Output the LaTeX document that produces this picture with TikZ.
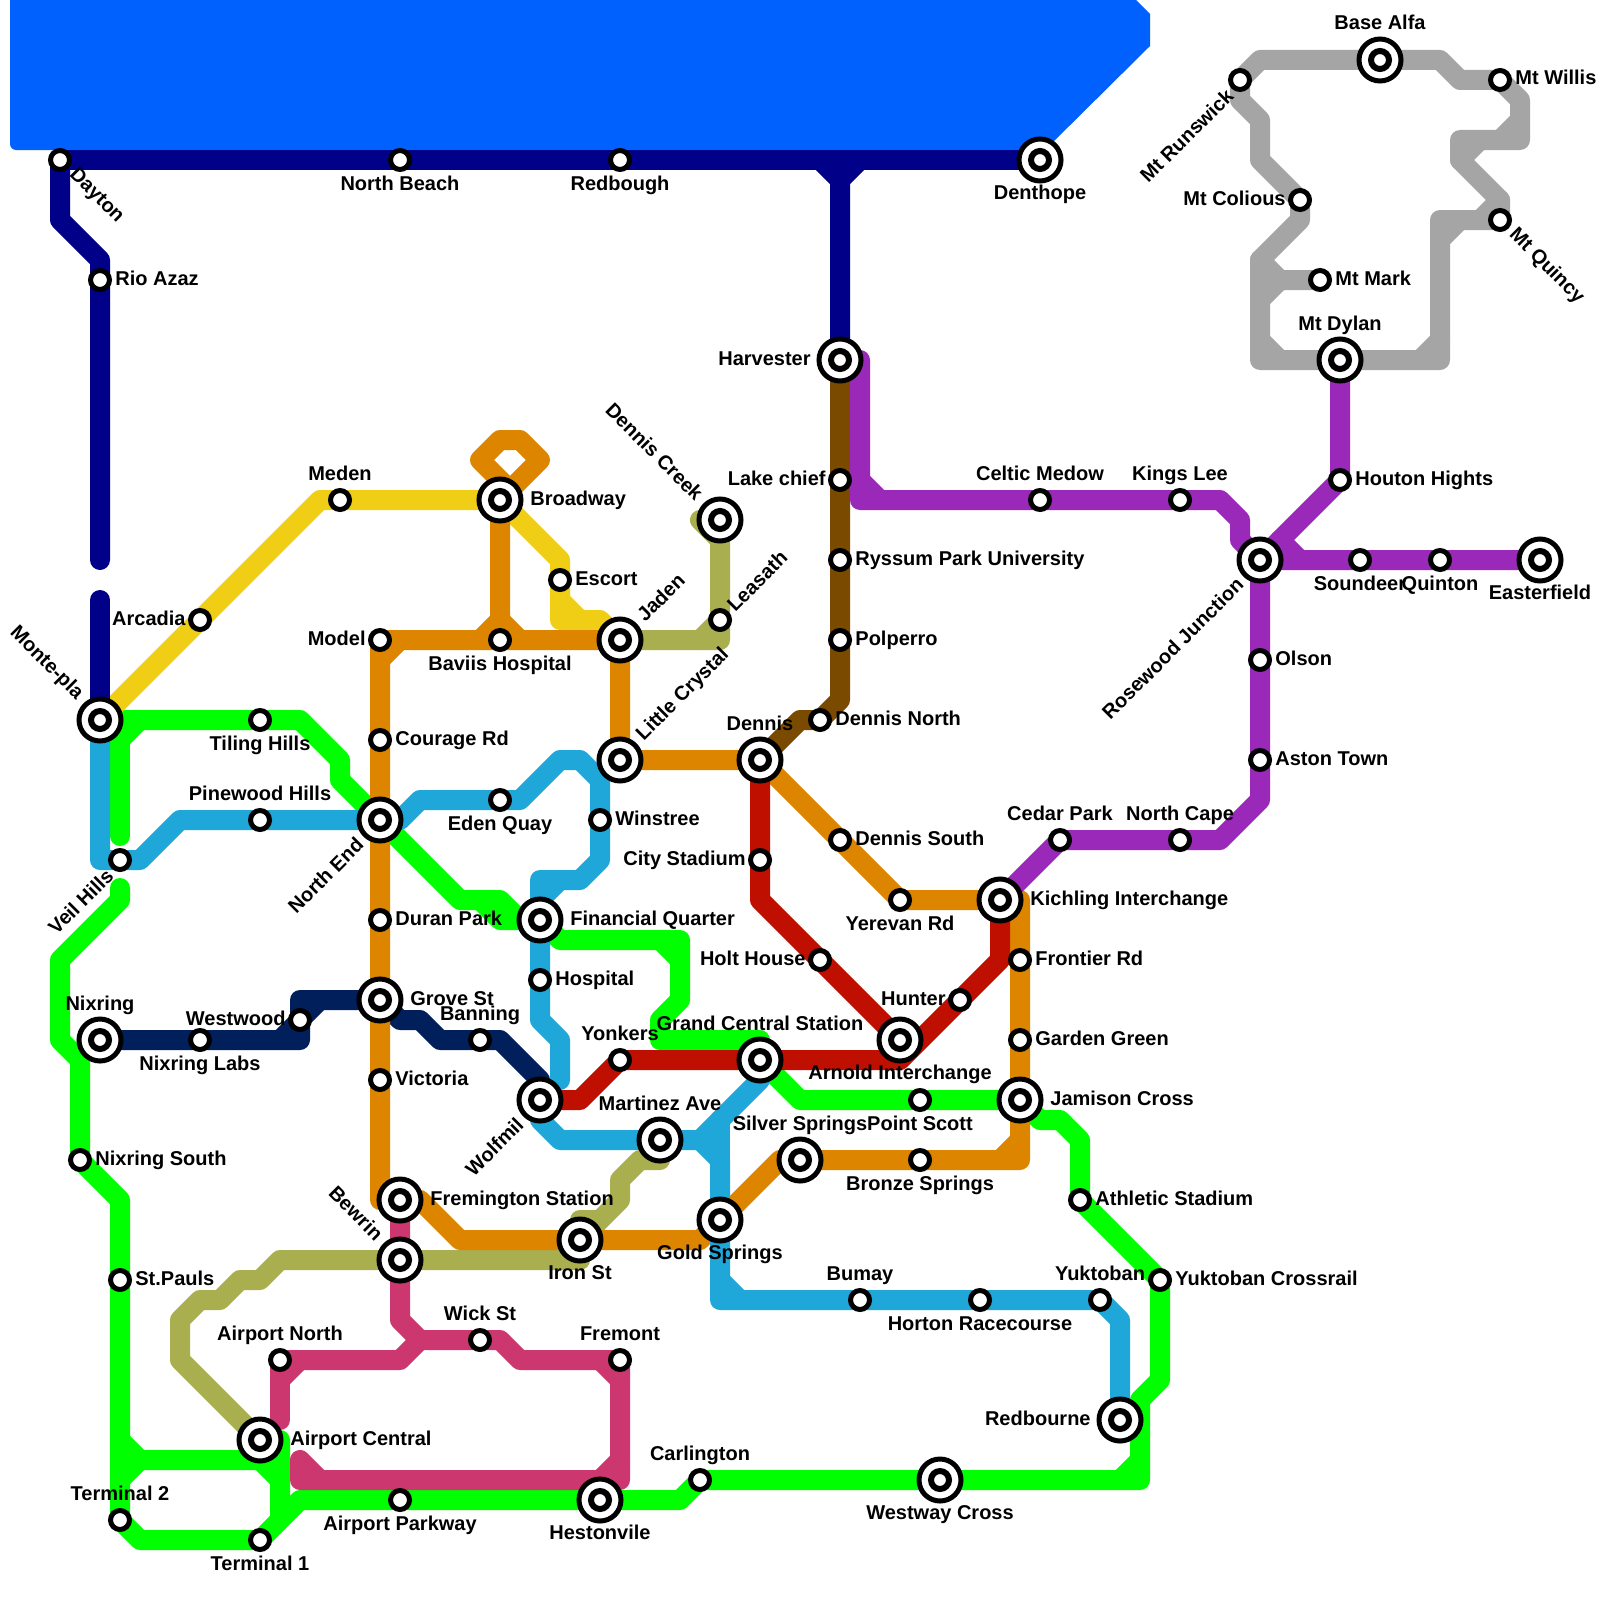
\documentclass[tikz,border=0pt]{standalone}
\usepackage{fontspec}
\setmainfont{Liberation Sans}
\usetikzlibrary{calc}
\pgfdeclarelayer{lines}
\pgfsetlayers{lines,main}
\definecolor{cnavy}{HTML}{000088}
\definecolor{csea}{HTML}{0061FF}
\definecolor{cdark}{HTML}{001F5B}
\definecolor{cgreen}{HTML}{00FF00}
\definecolor{csky}{HTML}{1FA7DA}
\definecolor{cyel}{HTML}{F0CE15}
\definecolor{corange}{HTML}{DE8500}
\definecolor{cred}{HTML}{BF0F00}
\definecolor{cbrown}{HTML}{7A4A00}
\definecolor{cpurple}{HTML}{9A28B8}
\definecolor{cgrey}{HTML}{A5A5A5}
\definecolor{colive}{HTML}{A9AE4F}
\definecolor{ccrim}{HTML}{CD3770}
\tikzset{
  x=10pt,y=-10pt,
  metro/.style={line width=10pt,line cap=round,line join=round},
  stn/.style={circle,draw=black,fill=white,line width=2.5pt,inner sep=0pt,outer sep=0pt,minimum size=9.5pt},
  hub/.style={circle,draw=black,fill=white,line width=2.5pt,inner sep=0pt,outer sep=0pt,minimum size=21pt,
    path picture={\draw[line width=3pt,fill=white] (path picture bounding box.center) circle (4.5pt);}},
  txt/.style={font=\fontsize{10}{12}\selectfont\bfseries,inner sep=0pt,text=black},
  lr/.style={txt,anchor=base west,xshift=7.5pt,yshift=-2.5pt},
  ll/.style={txt,anchor=base east,xshift=-7pt,yshift=-2.5pt},
  la/.style={txt,anchor=base,yshift=10pt},
  lb/.style={txt,anchor=base,yshift=-15pt},
  Lr/.style={txt,anchor=base west,xshift=15pt,yshift=-2.5pt},
  Ll/.style={txt,anchor=base east,xshift=-14.5pt,yshift=-2.5pt},
  La/.style={txt,anchor=base,yshift=15pt},
  Lb/.style={txt,anchor=base,yshift=-19.5pt},
  rdn/.style={txt,anchor=west,xshift=6pt,yshift=-6pt,rotate=-45},
  rup/.style={txt,anchor=west,xshift=5pt,yshift=6pt,rotate=45},
  Rup/.style={txt,anchor=west,xshift=10pt,yshift=11pt,rotate=45},
  rld/.style={txt,anchor=east,xshift=-5pt,yshift=-6pt,rotate=45},
  Rld/.style={txt,anchor=east,xshift=-10pt,yshift=-10.5pt,rotate=45},
  Rlu/.style={txt,anchor=east,xshift=-10pt,yshift=11.5pt,rotate=-45},
}
\begin{document}
\begin{tikzpicture}
\useasboundingbox (0,0) rectangle (80,80);
% stations
\node[stn] (dayton) at (3,8) {};
\node[stn] (northbeach) at (20,8) {};
\node[stn] (redbough) at (31,8) {};
\node[hub] (denthope) at (52,8) {};
\node[stn] (rioazaz) at (5,14) {};
\node[hub] (harvester) at (42,18) {};
\node[stn] (lakechief) at (42,24) {};
\node[stn] (ryssum) at (42,28) {};
\node[stn] (polperro) at (42,32) {};
\node[stn] (dennisnorth) at (41,36) {};
\node[hub] (dennis) at (38,38) {};
\node[stn] (dennissouth) at (42,42) {};
\node[stn] (yerevan) at (45,45) {};
\node[hub] (kichling) at (50,45) {};
\node[stn] (frontier) at (51,48) {};
\node[stn] (garden) at (51,52) {};
\node[hub] (jamison) at (51,55) {};
\node[stn] (pointscott) at (46,55) {};
\node[stn] (bronze) at (46,58) {};
\node[hub] (silver) at (40,58) {};
\node[hub] (gold) at (36,61) {};
\node[hub] (iron) at (29,62) {};
\node[hub] (fremington) at (20,60) {};
\node[hub] (bewrin) at (20,63) {};
\node[stn] (wick) at (24,67) {};
\node[stn] (airportn) at (14,68) {};
\node[stn] (fremont) at (31,68) {};
\node[hub] (airportc) at (13,72) {};
\node[hub] (hestonvile) at (30,75) {};
\node[stn] (airportp) at (20,75) {};
\node[stn] (term1) at (13,77) {};
\node[stn] (term2) at (6,76) {};
\node[stn] (carlington) at (35,74) {};
\node[hub] (westway) at (47,74) {};
\node[hub] (redbourne) at (56,71) {};
\node[stn] (yuktoban) at (55,65) {};
\node[stn] (yukcross) at (58,64) {};
\node[stn] (athletic) at (54,60) {};
\node[stn] (horton) at (49,65) {};
\node[stn] (bumay) at (43,65) {};
\node[stn] (stpauls) at (6,64) {};
\node[stn] (nixsouth) at (4,58) {};
\node[hub] (nixring) at (5,52) {};
\node[stn] (nixlabs) at (10,52) {};
\node[stn] (westwood) at (15,51) {};
\node[hub] (grove) at (19,50) {};
\node[stn] (banning) at (24,52) {};
\node[hub] (wolfmil) at (27,55) {};
\node[stn] (yonkers) at (31,53) {};
\node[hub] (grand) at (38,53) {};
\node[hub] (martinez) at (33,57) {};
\node[stn] (victoria) at (19,54) {};
\node[stn] (duran) at (19,46) {};
\node[hub] (northend) at (19,41) {};
\node[stn] (courage) at (19,37) {};
\node[stn] (model) at (19,32) {};
\node[stn] (baviis) at (25,32) {};
\node[hub] (jaden) at (31,32) {};
\node[hub] (littlec) at (31,38) {};
\node[stn] (leasath) at (36,31) {};
\node[hub] (denniscreek) at (36,26) {};
\node[hub] (broadway) at (25,25) {};
\node[stn] (meden) at (17,25) {};
\node[stn] (arcadia) at (10,31) {};
\node[stn] (escort) at (28,29) {};
\node[hub] (montepla) at (5,36) {};
\node[stn] (tiling) at (13,36) {};
\node[stn] (pinewood) at (13,41) {};
\node[stn] (veil) at (6,43) {};
\node[stn] (eden) at (25,40) {};
\node[stn] (winstree) at (30,41) {};
\node[hub] (financial) at (27,46) {};
\node[stn] (hospital) at (27,49) {};
\node[stn] (citystad) at (38,43) {};
\node[stn] (holt) at (41,48) {};
\node[stn] (hunter) at (48,50) {};
\node[hub] (arnold) at (45,52) {};
\node[stn] (celtic) at (52,25) {};
\node[stn] (kings) at (59,25) {};
\node[hub] (rosewood) at (63,28) {};
\node[stn] (soundeer) at (68,28) {};
\node[stn] (quinton) at (72,28) {};
\node[hub] (easterfield) at (77,28) {};
\node[stn] (houton) at (67,24) {};
\node[hub] (mtdylan) at (67,18) {};
\node[stn] (olson) at (63,33) {};
\node[stn] (aston) at (63,38) {};
\node[stn] (northcape) at (59,42) {};
\node[stn] (cedar) at (53,42) {};
\node[hub] (basealfa) at (69,3) {};
\node[stn] (mtwillis) at (75,4) {};
\node[stn] (mtrunswick) at (62,4) {};
\node[stn] (mtcolious) at (65,10) {};
\node[stn] (mtmark) at (66,14) {};
\node[stn] (mtquincy) at (75,11) {};
% lines
\begin{pgfonlayer}{lines}
\fill[white] (0,0) rectangle (80,80);
\fill[csea,rounded corners=3pt] (0.5,-1) -- (0.5,7.5) -- (52.25,7.5) [sharp corners] -- (57.5,2.3) -- (57.5,0.7) -- (56.8,0) -- (56.8,-1) -- cycle;
% green
\begin{scope}[metro,cgreen]
\draw (montepla.center) -- (tiling.center) -- (15,36) -- (17,38) -- (17,39) -- (northend.center) -- (23,45) -- (25,45) -- (26,46) -- (financial.center);
\draw (24,45) -- (25,46) -- (financial.center);
\draw (7,36) -- (6,37);
\draw (6,36) -- (6,41.8);
\draw (6,44.4) -- (6,45) -- (3,48) -- (3,52) -- (4,53) -- (nixsouth.center) -- (6,60) -- (stpauls.center) -- (term2.center) -- (7,77) -- (term1.center);
\draw (6,72) -- (7,73) -- (13,73) -- (14,74);
\draw (6,74) -- (7,73);
\draw (airportc.center) -- (14,72) -- (14,76) -- (term1.center) -- (15,75) -- (airportp.center) -- (hestonvile.center) -- (34,75) -- (carlington.center) -- (westway.center) -- (57,74) -- (57,70) -- (58,69) -- (yukcross.center) -- (athletic.center) -- (54,57) -- (53,56) -- (52,56) -- (jamison.center);
\draw (56,74) -- (57,73);
\draw (financial.center) -- (28,47) -- (34,47) -- (34,50) -- (33,51) -- (33,52) -- (38,52) -- (grand.center) -- (40,55) -- (pointscott.center) -- (jamison.center);
\draw (33,47) -- (34,48);
\end{scope}
% dark navy
\begin{scope}[metro,cdark]
\draw (nixring.center) -- (nixlabs.center) -- (15,52) -- (15,50) -- (grove.center) -- (20,51) -- (21,51) -- (22,52) -- (banning.center) -- (25,52) -- (27,54) -- (wolfmil.center);
\draw (westwood.center) -- (16,50);
\draw (14,52) -- (westwood.center);
\end{scope}
% olive
\begin{scope}[metro,colive]
\draw (jaden.center) -- (36,32) -- (leasath.center) -- (denniscreek.center) -- (35,26) -- (36,27);
\draw (35,32) -- (leasath.center);
\draw (airportc.center) -- (9,68) -- (9,66) -- (10,65) -- (11,65) -- (12,64) -- (13,64) -- (14,63) -- (bewrin.center) -- (29,63) -- (iron.center);
\draw (martinez.center) -- (33,58) -- (32,58) -- (31,59) -- (31,60) -- (iron.center) -- (29,61) -- (30,61);
\end{scope}
% yellow
\begin{scope}[metro,cyel]
\draw (montepla.center) -- (arcadia.center) -- (16,25) -- (meden.center) -- (broadway.center) -- (28,28) -- (escort.center) -- (28,31) -- (30,31) -- (jaden.center);
\draw (28,30) -- (29,31);
\end{scope}
% orange
\begin{scope}[metro,corange]
\draw (fremington.center) -- (19,60) -- (victoria.center) -- (grove.center) -- (duran.center) -- (northend.center) -- (courage.center) -- (model.center) -- (baviis.center) -- (jaden.center) -- (littlec.center) -- (dennis.center) -- (dennissouth.center) -- (yerevan.center) -- (kichling.center) -- (51,45) -- (frontier.center) -- (garden.center) -- (jamison.center) -- (51,58) -- (bronze.center) -- (silver.center) -- (39,58) -- (gold.center) -- (35,62) -- (iron.center) -- (23,62) -- (21,60) -- (fremington.center);
\draw (19,33) -- (20,32);
\draw (24,32) -- (25,31) -- (26,32);
\draw (baviis.center) -- (broadway.center) -- (27,23) -- (26,22) -- (25,22) -- (24,23) -- (25.5,24.5);
\draw (51,57) -- (50,58);
\end{scope}
% crimson
\begin{scope}[metro,ccrim]
\draw (fremington.center) -- (bewrin.center) -- (20,66) -- (21,67) -- (wick.center) -- (25,67) -- (26,68) -- (fremont.center) -- (31,74) -- (15,74) -- (15,73) -- (16,74);
\draw (airportn.center) -- (20,68) -- (21,67);
\draw (airportn.center) -- (14,71);
\draw (14,69) -- (15,68);
\draw (30,68) -- (31,69);
\draw (31,73) -- (30,74);
\end{scope}
% sky
\begin{scope}[metro,csky]
\draw (montepla.center) -- (5,43) -- (veil.center) -- (7,43) -- (9,41) -- (pinewood.center) -- (northend.center) -- (20,41) -- (21,40) -- (eden.center) -- (26,40) -- (28,38) -- (29,38) -- (30,39) -- (winstree.center) -- (30,43) -- (29,44) -- (27,44) -- (financial.center) -- (hospital.center) -- (27,51) -- (28,52) -- (28,54);
\draw (27,45) -- (28,44);
\draw (wolfmil.center) -- (27,56) -- (28,57) -- (martinez.center) -- (35,57) -- (38,54) -- (grand.center);
\draw (35,57) -- (36,58) -- (gold.center) -- (36,65) -- (bumay.center) -- (horton.center) -- (yuktoban.center) -- (56,66) -- (redbourne.center);
\draw (36,56) -- (36,58);
\draw (36,64) -- (37,65);
\end{scope}
% red
\begin{scope}[metro,cred]
\draw (dennis.center) -- (citystad.center) -- (38,45) -- (holt.center) -- (arnold.center);
\draw (kichling.center) -- (50,48) -- (hunter.center) -- (45,53) -- (grand.center) -- (yonkers.center) -- (29,55) -- (wolfmil.center);
\end{scope}
% brown
\draw[metro,cbrown] (harvester.center) -- (lakechief.center) -- (ryssum.center) -- (polperro.center) -- (42,35) -- (dennisnorth.center) -- (40,36) -- (dennis.center);
% purple
\begin{scope}[metro,cpurple]
\draw (harvester.center) -- (43,18) -- (43,25) -- (celtic.center) -- (kings.center) -- (61,25) -- (62,26) -- (62,27) -- (rosewood.center) -- (soundeer.center) -- (quinton.center) -- (easterfield.center);
\draw (43,24) -- (44,25);
\draw (64,27) -- (65,28);
\draw (rosewood.center) -- (houton.center) -- (mtdylan.center);
\draw (rosewood.center) -- (olson.center) -- (aston.center) -- (63,40) -- (61,42) -- (northcape.center) -- (cedar.center) -- (kichling.center);
\end{scope}
% grey
\begin{scope}[metro,cgrey]
\draw (mtrunswick.center) -- (63,3) -- (basealfa.center) -- (72,3) -- (73,4) -- (mtwillis.center) -- (76,5) -- (76,7) -- (73,7) -- (73,8) -- (75,10) -- (mtquincy.center) -- (72,11) -- (72,18) -- (mtdylan.center) -- (63,18) -- (63,13) -- (65,11) -- (mtcolious.center) -- (63,8) -- (63,6) -- (62,5) -- (mtrunswick.center);
\draw (76,6) -- (75,7);
\draw (73,8) -- (74,7);
\draw (74,11) -- (75,10);
\draw (72,12) -- (73,11);
\draw (71,18) -- (72,17);
\draw (63,17) -- (64,18);
\draw (63,13) -- (64,14) -- (mtmark.center);
\draw (63,15) -- (64,14);
\end{scope}
% navy
\begin{scope}[metro,cnavy]
\draw (dayton.center) -- (northbeach.center) -- (redbough.center) -- (denthope.center);
\draw (dayton.center) -- (3,11) -- (5,13) -- (rioazaz.center) -- (5,28);
\draw (5,30) -- (montepla.center);
\draw (41,8) -- (42,9) -- (harvester.center);
\draw (43,8) -- (42,9);
\end{scope}
\end{pgfonlayer}
% labels
\node[rdn] (t1) at (dayton) {Dayton};
\node[lb] (t2) at (northbeach) {North Beach};
\node[lb] (t3) at (redbough) {Redbough};
\node[Lb] (t4) at (denthope) {Denthope};
\node[lr] (t5) at (rioazaz) {Rio Azaz};
\node[Ll] (t6) at (harvester) {Harvester};
\node[ll] (t7) at (lakechief) {Lake chief};
\node[lr] (t8) at (ryssum) {Ryssum Park University};
\node[lr] (t9) at (polperro) {Polperro};
\node[lr] (t10) at (dennisnorth) {Dennis North};
\node[La] (t11) at (dennis) {Dennis};
\node[lr] (t12) at (dennissouth) {Dennis South};
\node[lb] (t13) at (yerevan) {Yerevan Rd};
\node[Lr] (t14) at (kichling) {Kichling Interchange};
\node[lr] (t15) at (frontier) {Frontier Rd};
\node[lr] (t16) at (garden) {Garden Green};
\node[Lr] (t17) at (jamison) {Jamison Cross};
\node[lb] (t18) at (pointscott) {Point Scott};
\node[lb] (t19) at (bronze) {Bronze Springs};
\node[La] (t20) at (silver) {Silver Springs};
\node[Lb] (t21) at (gold) {Gold Springs};
\node[Lb] (t22) at (iron) {Iron St};
\node[Lr] (t23) at (fremington) {Fremington Station};
\node[Rlu] (t24) at (bewrin) {Bewrin};
\node[la] (t25) at (wick) {Wick St};
\node[la] (t26) at (airportn) {Airport North};
\node[la] (t27) at (fremont) {Fremont};
\node[Lr] (t28) at (airportc) {Airport Central};
\node[Lb] (t29) at (hestonvile) {Hestonvile};
\node[lb] (t30) at (airportp) {Airport Parkway};
\node[lb] (t31) at (term1) {Terminal 1};
\node[la] (t32) at (term2) {Terminal 2};
\node[la] (t33) at (carlington) {Carlington};
\node[Lb] (t34) at (westway) {Westway Cross};
\node[Ll] (t35) at (redbourne) {Redbourne};
\node[la] (t36) at (yuktoban) {Yuktoban};
\node[lr] (t37) at (yukcross) {Yuktoban Crossrail};
\node[lr] (t38) at (athletic) {Athletic Stadium};
\node[lb] (t39) at (horton) {Horton Racecourse};
\node[la] (t40) at (bumay) {Bumay};
\node[lr] (t41) at (stpauls) {St.Pauls};
\node[lr] (t42) at (nixsouth) {Nixring South};
\node[La] (t43) at (nixring) {Nixring};
\node[lb] (t44) at (nixlabs) {Nixring Labs};
\node[ll] (t45) at (westwood) {Westwood};
\node[Lr] (t46) at (grove) {Grove St};
\node[la] (t47) at (banning) {Banning};
\node[Rld] (t48) at (wolfmil) {Wolfmil};
\node[la] (t49) at (yonkers) {Yonkers};
\node[La] (t50) at (grand) {Grand Central Station};
\node[La] (t51) at (martinez) {Martinez Ave};
\node[lr] (t52) at (victoria) {Victoria};
\node[lr] (t53) at (duran) {Duran Park};
\node[Rld] (t54) at (northend) {North End};
\node[lr] (t55) at (courage) {Courage Rd};
\node[ll] (t56) at (model) {Model};
\node[lb] (t57) at (baviis) {Baviis Hospital};
\node[Rup] (t58) at (jaden) {Jaden};
\node[Rup] (t59) at (littlec) {Little Crystal};
\node[rup] (t60) at (leasath) {Leasath};
\node[Rlu] (t61) at (denniscreek) {Dennis Creek};
\node[Lr] (t62) at (broadway) {Broadway};
\node[la] (t63) at (meden) {Meden};
\node[ll] (t64) at (arcadia) {Arcadia};
\node[lr] (t65) at (escort) {Escort};
\node[Rlu] (t66) at (montepla) {Monte-pla};
\node[lb] (t67) at (tiling) {Tiling Hills};
\node[la] (t68) at (pinewood) {Pinewood Hills};
\node[rld] (t69) at (veil) {Veil Hills};
\node[lb] (t70) at (eden) {Eden Quay};
\node[lr] (t71) at (winstree) {Winstree};
\node[Lr] (t72) at (financial) {Financial Quarter};
\node[lr] (t73) at (hospital) {Hospital};
\node[ll] (t74) at (citystad) {City Stadium};
\node[ll] (t75) at (holt) {Holt House};
\node[ll] (t76) at (hunter) {Hunter};
\node[Lb] (t77) at (arnold) {Arnold Interchange};
\node[la] (t78) at (celtic) {Celtic Medow};
\node[la] (t79) at (kings) {Kings Lee};
\node[Rld] (t80) at (rosewood) {Rosewood Junction};
\node[lb] (t81) at (soundeer) {Soundeer};
\node[lb] (t82) at (quinton) {Quinton};
\node[Lb] (t83) at (easterfield) {Easterfield};
\node[lr] (t84) at (houton) {Houton Hights};
\node[La] (t85) at (mtdylan) {Mt Dylan};
\node[lr] (t86) at (olson) {Olson};
\node[lr] (t87) at (aston) {Aston Town};
\node[la] (t88) at (northcape) {North Cape};
\node[la] (t89) at (cedar) {Cedar Park};
\node[La] (t90) at (basealfa) {Base Alfa};
\node[lr] (t91) at (mtwillis) {Mt Willis};
\node[rld] (t92) at (mtrunswick) {Mt Runswick};
\node[ll] (t93) at (mtcolious) {Mt Colious};
\node[lr] (t94) at (mtmark) {Mt Mark};
\node[rdn] (t95) at (mtquincy) {Mt Quincy};
\end{tikzpicture}
\end{document}
